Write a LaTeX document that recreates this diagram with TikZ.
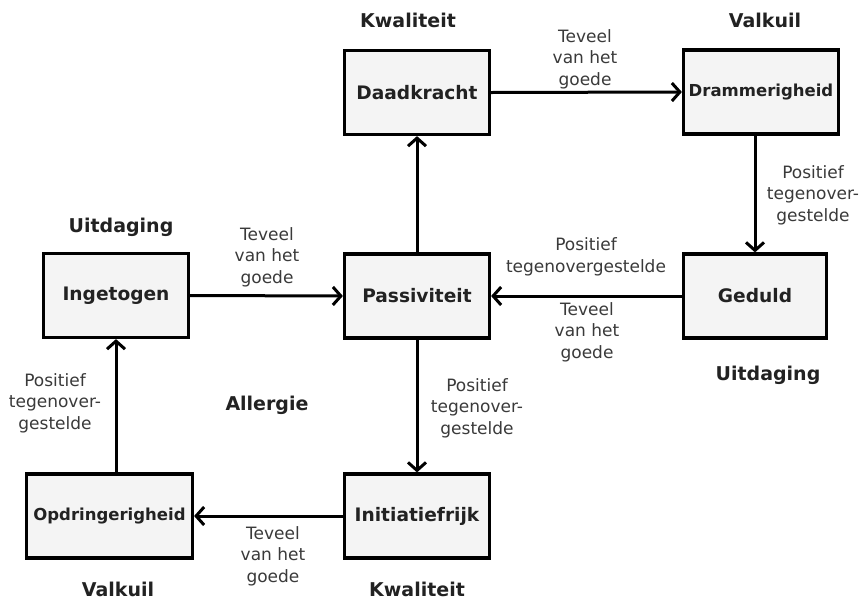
\documentclass[tikz,border=0pt]{standalone}
\usepackage{fontspec}
\setmainfont{DejaVu Sans}
\usetikzlibrary{arrows.meta}
\definecolor{boxfill}{HTML}{F4F4F4}
\definecolor{labeltxt}{HTML}{3A3A3A}
\definecolor{headtxt}{HTML}{222222}
\begin{document}
\begin{tikzpicture}[x=1pt,y=-1pt,
  box/.style={draw=black, line width=3.2pt, fill=boxfill, inner sep=0pt,
    minimum width=145pt, minimum height=84pt, text=headtxt,
    font=\fontsize{18.6}{20}\selectfont\bfseries},
  smallbox/.style={box, font=\fontsize{16.5}{18}\selectfont\bfseries},
  head/.style={text=headtxt, inner sep=0pt, font=\fontsize{19}{22}\selectfont\bfseries},
  lbl/.style={text=labeltxt, inner sep=0pt, align=center, font=\fontsize{17}{21.5}\selectfont},
  conn/.style={line width=3pt, -{Straight Barb[length=8pt,width=18pt,line width=3pt]}}
]
\useasboundingbox[fill=white] (0,0) rectangle (863,603);

% boxes
\node[box] (daad) at (417,92.5) {Daadkracht};
\node[smallbox, minimum width=155pt] (dram) at (761,92) {Drammerigheid};
\node[box] (inget) at (116,295.5) {Ingetogen};
\node[box] (pass) at (417,296) {Passiviteit};
\node[box, minimum width=143pt] (ged) at (755,296) {Geduld};
\node[smallbox, minimum width=166pt] (opdr) at (109.5,516) {Opdringerigheid};
\node[box] (init) at (417,516) {Initiatiefrijk};

% headers
\node[head] (h1) at (408,20) {Kwaliteit};
\node[head] (h2) at (765,20) {Valkuil};
\node[head] (h3) at (121,227) {Uitdaging};
\node[head] (h4) at (768,375) {Uitdaging};
\node[head] (h5) at (267,405) {Allergie};
\node[head] (h6) at (118,589) {Valkuil};
\node[head] (h7) at (417,589) {Kwaliteit};

% connectors
\draw[conn] (daad.east) -- (dram.west);
\draw[conn] (dram.south -| ged.north) -- (ged.north);
\draw[conn] (inget.east) -- (pass.west);
\draw[conn] (ged.west) -- (pass.east);
\draw[conn] (pass.north) -- (daad.south);
\draw[conn] (pass.south) -- (init.north);
\draw[conn] (opdr.north -| inget.south) -- (inget.south);
\draw[conn] (init.west) -- (opdr.east);

% connector labels
\node[lbl] (l1) at (585,59) {Teveel\\van het\\goede};
\node[lbl] (l2) at (267,257) {Teveel\\van het\\goede};
\node[lbl] (l3) at (813,195) {Positief\\tegenover-\\gestelde};
\node[lbl] (l4) at (586,257) {Positief\\tegenovergestelde};
\node[lbl] (l5) at (587,332) {Teveel\\van het\\goede};
\node[lbl] (l6) at (477,408) {Positief\\tegenover-\\gestelde};
\node[lbl] (l7) at (55,403) {Positief\\tegenover-\\gestelde};
\node[lbl] (l8) at (273,556) {Teveel\\van het\\goede};
\end{tikzpicture}
\end{document}
